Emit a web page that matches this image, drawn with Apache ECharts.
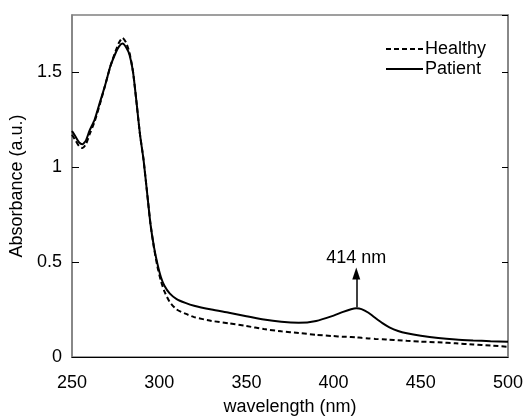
<!DOCTYPE html>
<html>
<head>
<meta charset="utf-8">
<script src="https://cdn.jsdelivr.net/npm/echarts@6/dist/echarts.min.js"></script>
<style>
  html, body { margin: 0; padding: 0; background: #fff; }
  #chart { width: 525px; height: 417px; }
</style>
</head>
<body>
<div id="chart"></div>
<script>
// wavelength (nm)
const wavelengths = [250, 252, 254, 256, 258, 260, 263, 266, 269, 272, 275, 277, 279, 281, 283, 285, 287, 289, 291, 293,
  295, 297, 299, 301, 303, 306, 310, 315, 320, 330, 340, 350, 360, 370, 380, 390, 400, 405, 410, 413,
  416, 420, 424, 428, 432, 437, 442, 450, 460, 470, 480, 490, 500]

const healthy = [1.17, 1.14, 1.11, 1.10, 1.12, 1.17, 1.24, 1.33, 1.43, 1.53, 1.61, 1.655, 1.68, 1.655, 1.60, 1.50, 1.34, 1.17, 1.04, 0.87,
  0.70, 0.575, 0.475, 0.40, 0.345, 0.29, 0.25, 0.228, 0.21, 0.19, 0.177, 0.163, 0.147, 0.135, 0.126, 0.117, 0.110, 0.107, 0.105, 0.103,
  0.101, 0.098, 0.095, 0.093, 0.091, 0.088, 0.085, 0.081, 0.077, 0.072, 0.066, 0.060, 0.054]

const patient = [1.19, 1.16, 1.13, 1.12, 1.14, 1.19, 1.25, 1.34, 1.43, 1.53, 1.60, 1.635, 1.65, 1.63, 1.59, 1.50, 1.34, 1.17, 1.04, 0.87,
  0.70, 0.58, 0.49, 0.42, 0.375, 0.335, 0.305, 0.285, 0.27, 0.25, 0.233, 0.215, 0.197, 0.185, 0.18, 0.19, 0.218, 0.236, 0.251, 0.256,
  0.252, 0.233, 0.205, 0.178, 0.156, 0.137, 0.125, 0.112, 0.10, 0.092, 0.087, 0.083, 0.08]

const xTicks = [250, 300, 350, 400, 450, 500]
const yTicks = [0, 0.5, 1, 1.5]

// arrow for the 414 nm band
const arrowFrom = [413, 0.262]
const arrowTo = [413, 0.44]

const font = 'Liberation Sans, Arial, sans-serif'
const pair = (xs, ys) => xs.map((x, i) => [x, ys[i]])

const chart = echarts.init(document.getElementById('chart'))
chart.setOption({
  animation: false,
  backgroundColor: '#fff',
  textStyle: { fontFamily: font },
  grid: {
    left: 72, right: 17, top: 15, bottom: 60,
    outerBoundsMode: 'none',
    show: true, borderColor: '#808080', borderWidth: 1.5
  },
  legend: {
    orient: 'vertical',
    left: 380,
    top: 35,
    itemWidth: 37,
    itemHeight: 14,
    itemGap: 2,
    data: ['Healthy', 'Patient'],
    itemStyle: { opacity: 0 },
    textStyle: { fontFamily: font, fontSize: 18, color: '#000', padding: [0, 0, 0, -3] }
  },
  xAxis: {
    type: 'value',
    min: xTicks[0],
    max: xTicks[xTicks.length - 1],
    interval: 50,
    name: 'wavelength (nm)',
    nameLocation: 'middle',
    nameGap: 41,
    nameTextStyle: { fontFamily: font, fontSize: 18, color: '#000' },
    axisLine: { show: true, lineStyle: { color: '#000', width: 1.2 } },
    axisTick: { show: false },
    axisLabel: { fontFamily: font, fontSize: 18, color: '#000', margin: 17 },
    splitLine: { show: false }
  },
  yAxis: [{
    type: 'value',
    min: yTicks[0],
    max: 1.8,
    interval: 0.5,
    name: 'Absorbance (a.u.)',
    nameLocation: 'middle',
    nameGap: 37,
    nameTextStyle: { fontFamily: font, fontSize: 18, color: '#000' },
    axisLine: { show: true, lineStyle: { color: '#808080', width: 1.5 } },
    axisTick: { show: true, inside: true, length: 7, lineStyle: { color: '#000' } },
    axisLabel: { fontFamily: font, fontSize: 18, color: '#000', margin: 10, showMaxLabel: false },
    splitLine: { show: false }
  }, {
    type: 'value',
    position: 'right',
    min: yTicks[0],
    max: 1.8,
    interval: 0.5,
    axisLine: { show: true, lineStyle: { color: '#808080', width: 1.5 } },
    axisTick: { show: true, inside: true, length: 6, lineStyle: { color: '#000' } },
    axisLabel: { show: false },
    splitLine: { show: false }
  }],
  series: [{
    name: 'Healthy',
    type: 'line',
    data: pair(wavelengths, healthy),
    symbol: 'none',
    smooth: 0.2,
    color: '#000',
    lineStyle: { color: '#000', width: 2, type: [5, 3] }
  }, {
    name: 'Patient',
    type: 'line',
    data: pair(wavelengths, patient),
    symbol: 'none',
    smooth: 0.2,
    color: '#000',
    lineStyle: { color: '#000', width: 2 },
    markLine: {
      silent: true,
      symbol: ['none', 'triangle'],
      symbolSize: [8, 12],
      lineStyle: { color: '#000', width: 1.5, type: 'solid' },
      label: {
        show: true,
        position: 'end',
        distance: 6,
        formatter: '414 nm',
        fontFamily: font,
        fontSize: 18,
        color: '#000'
      },
      data: [[{ coord: arrowFrom }, { coord: arrowTo }]]
    }
  }]
})
</script>
</body>
</html>
